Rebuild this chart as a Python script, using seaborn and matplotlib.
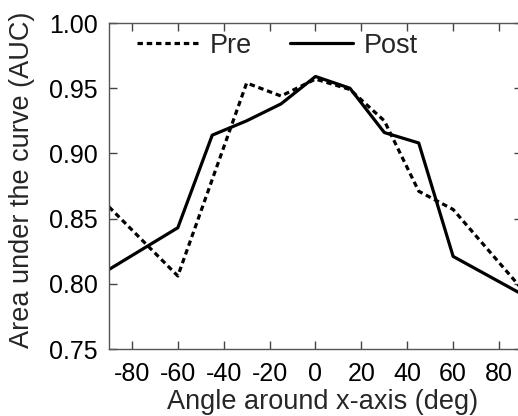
import matplotlib
matplotlib.use("Agg")
import matplotlib.pyplot as plt
import seaborn as sns
import pandas as pd
from matplotlib.ticker import FormatStrFormatter

angles_pre = [-90, -60, -30, -15, 0, 15, 30, 45, 60, 90]
auc_pre = [0.859, 0.806, 0.954, 0.944, 0.957, 0.949, 0.925, 0.871, 0.857, 0.796]
angles_post = [-90, -60, -45, -30, -15, 0, 15, 30, 45, 60, 90]
auc_post = [0.811, 0.843, 0.914, 0.925, 0.938, 0.959, 0.950, 0.916, 0.908, 0.821, 0.792]
xticks = [-80, -60, -40, -20, 0, 20, 40, 60, 80]
yticks = [0.75, 0.80, 0.85, 0.90, 0.95, 1.00]

df = pd.concat([
    pd.DataFrame({"angle": angles_pre, "auc": auc_pre, "cond": "Pre"}),
    pd.DataFrame({"angle": angles_post, "auc": auc_post, "cond": "Post"}),
], ignore_index=True)

sns.set_style("ticks")
plt.rcParams["font.family"] = ["Liberation Sans", "DejaVu Sans"]
plt.rcParams["axes.unicode_minus"] = False

fig = plt.figure(figsize=(5.18, 4.16), dpi=100)
ax = fig.add_axes([0.2104, 0.161, 0.7973, 0.7837])

sns.lineplot(data=df, x="angle", y="auc", style="cond", hue="cond",
             palette={"Pre": "black", "Post": "black"},
             dashes={"Pre": (1.7, 1.2), "Post": ""},
             linewidth=2.3, ax=ax, legend=True)

ax.set_xlim(-90, 90)
ax.set_ylim(0.75, 1.00)
ax.set_xticks(xticks)
ax.set_yticks(yticks)
ax.yaxis.set_major_formatter(FormatStrFormatter("%.2f"))
ax.tick_params(direction="in", length=6, width=1, top=True, right=True,
               labelsize=18, colors="#444444", labelcolor="black")
ax.tick_params(axis="x", pad=9)
ax.tick_params(axis="y", pad=8)
for s in ax.spines.values():
    s.set_visible(True)
    s.set_color("#555555")
    s.set_linewidth(1.0)
ax.set_xlabel("Angle around x-axis (deg)", fontsize=19.5)
ax.set_ylabel("Area under the curve (AUC)", fontsize=19.5)
ax.xaxis.set_label_coords(0.518, -0.122)
ax.yaxis.set_label_coords(-0.178, 0.52)

h, l = ax.get_legend_handles_labels()
ax.legend(h, l, loc="upper left", ncol=2, frameon=False, fontsize=19.5,
          handlelength=2.3, handletextpad=0.4, columnspacing=1.4,
          borderaxespad=0.0, borderpad=0.2, bbox_to_anchor=(0.055, 0.987))

fig.savefig("out.png", dpi=100)
